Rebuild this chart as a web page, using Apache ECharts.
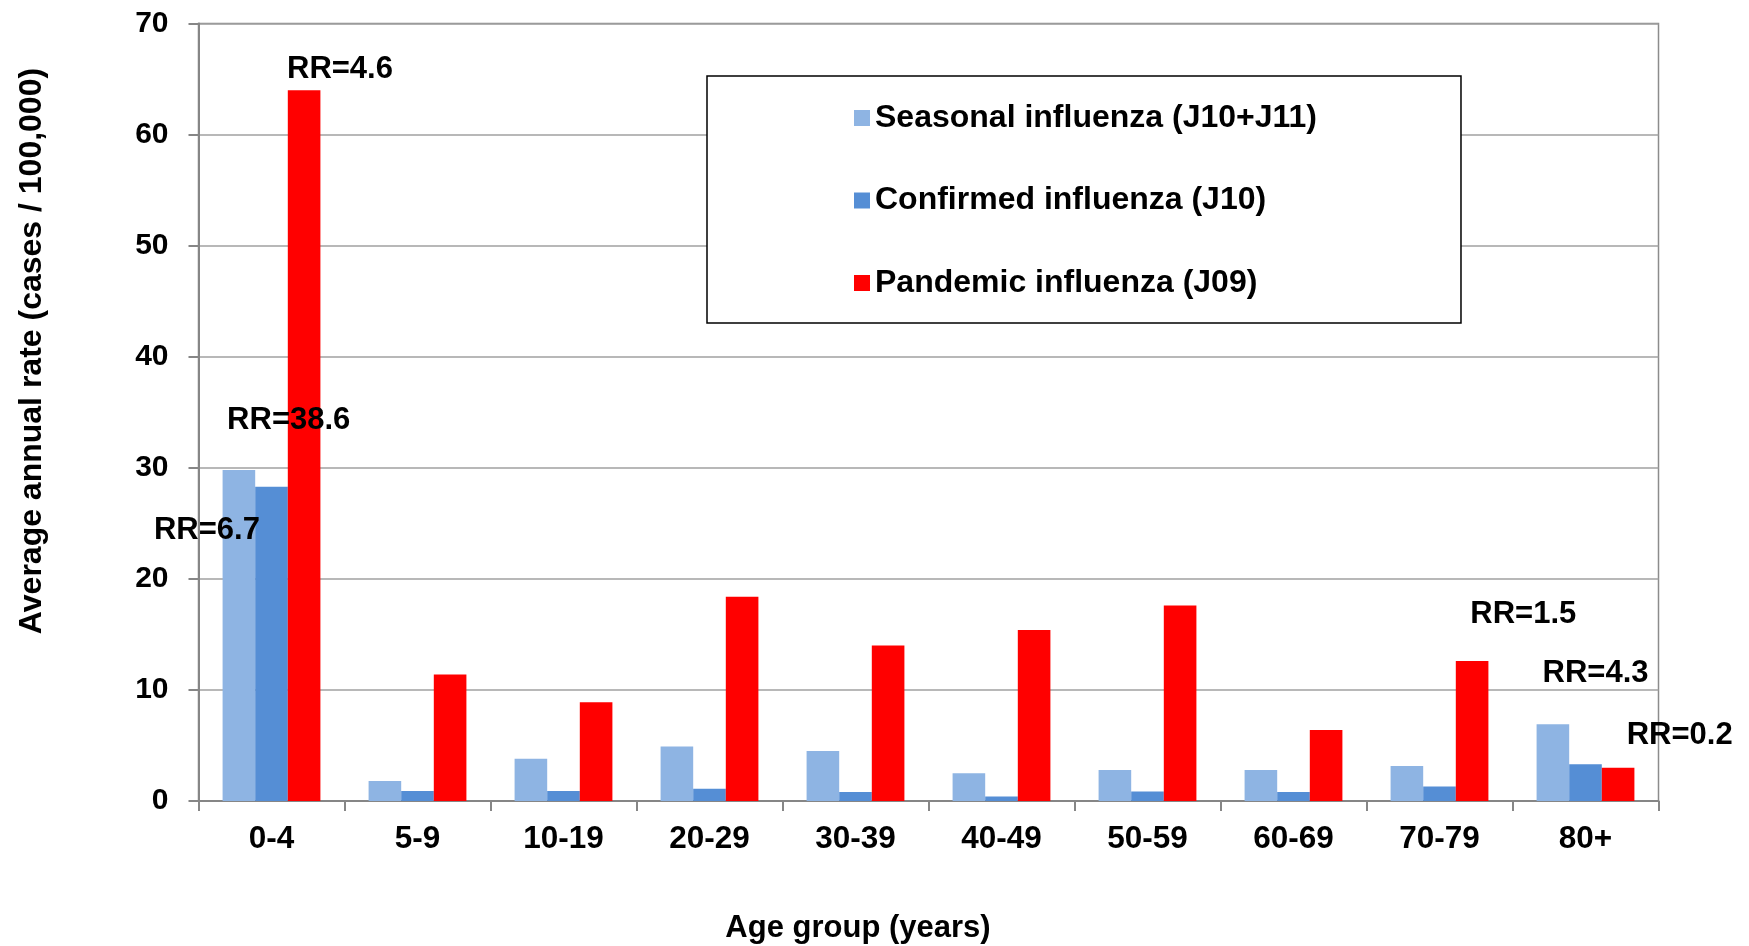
<!DOCTYPE html>
<html>
<head>
<meta charset="utf-8">
<title>Influenza rates by age group</title>
<script src="https://cdn.jsdelivr.net/npm/echarts@6/dist/echarts.min.js"></script>
<style>
  html, body { margin: 0; padding: 0; background: #fff; }
  #chart { width: 1749px; height: 946px; }
</style>
</head>
<body>
<div id="chart"></div>
<script>
// data
const ageGroups = ['0-4', '5-9', '10-19', '20-29', '30-39', '40-49', '50-59', '60-69', '70-79', '80+']
const seriesNames = ['Seasonal influenza (J10+J11)', 'Confirmed influenza (J10)', 'Pandemic influenza (J09)']
const seasonal = [29.8, 1.8, 3.8, 4.9, 4.5, 2.5, 2.8, 2.8, 3.15, 6.9]
const confirmed = [28.3, 0.9, 0.9, 1.1, 0.8, 0.4, 0.85, 0.8, 1.3, 3.3]
const pandemic = [64.0, 11.4, 8.9, 18.4, 14.0, 15.4, 17.6, 6.4, 12.6, 3.0]
const yTicks = [0, 10, 20, 30, 40, 50, 60, 70]

// RR annotations: x in category units (0..10), y in axis units
const rrLabels = ['RR=4.6', 'RR=38.6', 'RR=6.7', 'RR=1.5', 'RR=4.3', 'RR=0.2']
const rrX = [0.969, 0.618, 0.058, 9.074, 9.569, 10.145]
const rrY = [65.9, 34.3, 24.4, 16.8, 11.5, 5.9]

const colors = ['#8EB4E3', '#558ED5', '#FF0000']
const font = "'Liberation Sans', Arial, Helvetica, sans-serif"

const chart = echarts.init(document.getElementById('chart'), null, { renderer: 'canvas' })

const barValues = [seasonal, confirmed, pandemic]
const barSeries = seriesNames.map((name, i) => ({
  name: name,
  type: 'bar',
  data: barValues[i],
  barGap: 0,
  barCategoryGap: '33%',
  itemStyle: { color: colors[i] },
  emphasis: { disabled: true }
}))

const option = {
  animation: false,
  backgroundColor: '#fff',
  color: colors,
  grid: {
    left: 198.5,
    right: 90.5,
    top: 23.5,
    bottom: 145,
    show: true,
    borderColor: '#8C8C8C',
    borderWidth: 1.5,
    backgroundColor: 'transparent'
  },
  legend: {
    data: seriesNames,
    orient: 'vertical',
    left: 707,
    top: 76,
    icon: 'rect',
    itemWidth: 16,
    itemHeight: 16,
    itemGap: 48.5,
    padding: [25, 144, 23, 147],
    backgroundColor: '#fff',
    borderColor: '#000',
    borderWidth: 1.5,
    borderRadius: 0,
    selectedMode: false,
    textStyle: {
      color: '#000',
      fontFamily: font,
      fontWeight: 'bold',
      fontSize: 32,
      lineHeight: 34
    }
  },
  xAxis: [
    {
      type: 'category',
      data: ageGroups,
      boundaryGap: true,
      axisLine: { lineStyle: { color: '#868686', width: 2 } },
      axisTick: { show: true, length: 10, interval: 0, alignWithLabel: false, lineStyle: { color: '#868686', width: 2 } },
      axisLabel: {
        interval: 0,
        margin: 22,
        color: '#000',
        fontFamily: font,
        fontWeight: 'bold',
        fontSize: 31.5
      },
      splitLine: { show: false }
    },
    {
      // hidden linear axis in category units, used to place the RR notes
      type: 'value',
      min: 0,
      max: ageGroups.length,
      show: false
    }
  ],
  yAxis: {
    type: 'value',
    min: yTicks[0],
    max: yTicks[yTicks.length - 1],
    interval: yTicks[1] - yTicks[0],
    axisLine: { show: true, lineStyle: { color: '#868686', width: 2 } },
    axisTick: { show: true, length: 10, lineStyle: { color: '#868686', width: 2 } },
    axisLabel: {
      margin: 30,
      color: '#000',
      fontFamily: font,
      fontWeight: 'bold',
      fontSize: 30
    },
    splitLine: { lineStyle: { color: '#A0A0A0', width: 1.5 } }
  },
  series: barSeries.concat([{
    type: 'scatter',
    xAxisIndex: 1,
    yAxisIndex: 0,
    symbolSize: 0,
    clip: false,
    z: 10,
    silent: true,
    itemStyle: { opacity: 1 },
    data: rrLabels.map((t, i) => ({ name: t, value: [rrX[i], rrY[i]] })),
    label: {
      show: true,
      position: 'inside',
      formatter: p => p.name,
      color: '#000',
      opacity: 1,
      textBorderWidth: 0,
      fontFamily: font,
      fontWeight: 'bold',
      fontSize: 31
    }
  }]),
  graphic: [
    {
      type: 'text',
      x: 32,
      y: 351,
      rotation: Math.PI / 2,
      style: {
        text: 'Average annual rate (cases / 100,000)',
        fill: '#000',
        font: 'bold 32px ' + font,
        align: 'center',
        verticalAlign: 'middle'
      }
    },
    {
      type: 'text',
      x: 858,
      y: 928,
      style: {
        text: 'Age group (years)',
        fill: '#000',
        font: 'bold 31px ' + font,
        align: 'center',
        verticalAlign: 'middle'
      }
    }
  ]
}

chart.setOption(option)
</script>
</body>
</html>
